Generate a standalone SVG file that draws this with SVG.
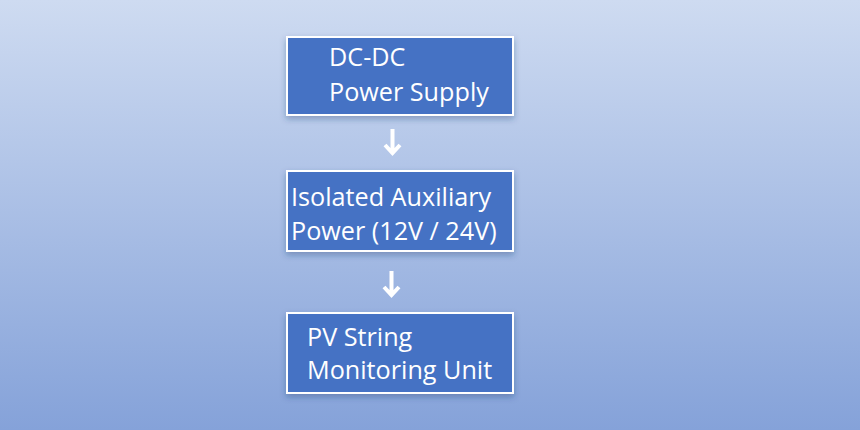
<svg xmlns="http://www.w3.org/2000/svg" width="860" height="430" viewBox="0 0 860 430">
<defs>
<linearGradient id="bg" x1="0" y1="0" x2="0" y2="1">
<stop offset="0" stop-color="#CEDBF1"/>
<stop offset="1" stop-color="#85A2D9"/>
</linearGradient>
<filter id="sh" x="-10%" y="-20%" width="120%" height="150%">
<feDropShadow dx="0" dy="3" stdDeviation="3" flood-color="#1F3A70" flood-opacity="0.35"/>
</filter>
<style>
.box{fill:#4472C4;stroke:#FFFFFF;stroke-width:2;filter:url(#sh)}
.t{font-family:"Open Sans","Noto Sans",sans-serif;font-size:25.2px;fill:#FFFFFF}
.arr{fill:none;stroke:#FFFFFF;stroke-width:4;stroke-linecap:butt;stroke-linejoin:miter}
</style>
</defs>
<rect width="860" height="430" fill="url(#bg)"/>
<g id="connectors">
<path class="arr" d="M392.5 129 V152 M385 145 L392.5 153 L400 145"/>
<path class="arr" d="M391.5 271 V294 M384 287 L391.5 295 L399 287"/>
</g>
<g id="node1">
<rect class="box" x="287" y="37" width="226" height="78"/>
<text class="t" x="329" y="66">DC-DC</text>
<text class="t" x="329" y="101">Power Supply</text>
</g>
<g id="node2">
<rect class="box" x="287" y="171" width="226" height="80"/>
<text class="t" x="291" y="206">Isolated Auxiliary</text>
<text class="t" x="291" y="240">Power (12V / 24V)</text>
</g>
<g id="node3">
<rect class="box" x="287" y="313" width="226" height="80"/>
<text class="t" x="307" y="346">PV String</text>
<text class="t" x="307" y="379">Monitoring Unit</text>
</g>
</svg>
